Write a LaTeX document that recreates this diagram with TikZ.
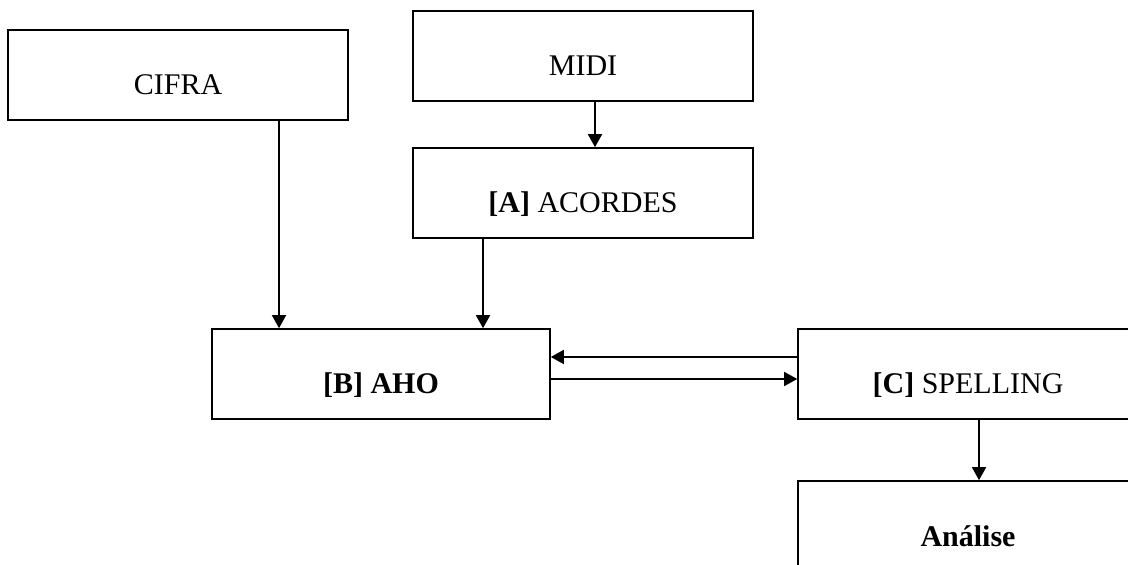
\documentclass[tikz,border=0pt]{standalone}
\usepackage{fontspec}
\setmainfont{Liberation Serif}
\usetikzlibrary{arrows.meta}
\begin{document}
\begin{tikzpicture}[x=0.5pt,y=-0.5pt,
  box/.style={draw,line width=0.8pt,minimum width=170pt,minimum height=45pt,inner sep=0pt,
    text height=20pt,text depth=0pt,font=\fontsize{15}{18}\selectfont},
  arr/.style={line width=0.8pt,-{Triangle[length=6.5pt,width=7pt]}}]
\useasboundingbox (0,0) rectangle (1128,565);
\clip (0,0) rectangle (1128,565);
\node[box] (cifra) at (178,75) {CIFRA};
\node[box] (midi) at (583,56) {MIDI};
\node[box] (acordes) at (583,193) {\textbf{[A]} ACORDES};
\node[box,minimum width=169pt] (aho) at (381,374) {\textbf{[B] AHO}};
\node[box] (spelling) at (968,374) {\textbf{[C]} SPELLING};
\node[box] (analise) at (968,526) {\textbf{Análise}};
\coordinate (xc) at (279,0);
\coordinate (xm) at (595,0);
\coordinate (xa) at (483,0);
\coordinate (xs) at (979,0);
\coordinate (yu) at (0,357);
\coordinate (yl) at (0,379);
\draw[arr] (cifra.south -| xc) -- (aho.north -| xc);
\draw[arr] (midi.south -| xm) -- (acordes.north -| xm);
\draw[arr] (acordes.south -| xa) -- (aho.north -| xa);
\draw[arr] (spelling.west |- yu) -- (aho.east |- yu);
\draw[arr] (aho.east |- yl) -- (spelling.west |- yl);
\draw[arr] (spelling.south -| xs) -- (analise.north -| xs);
\end{tikzpicture}
\end{document}
